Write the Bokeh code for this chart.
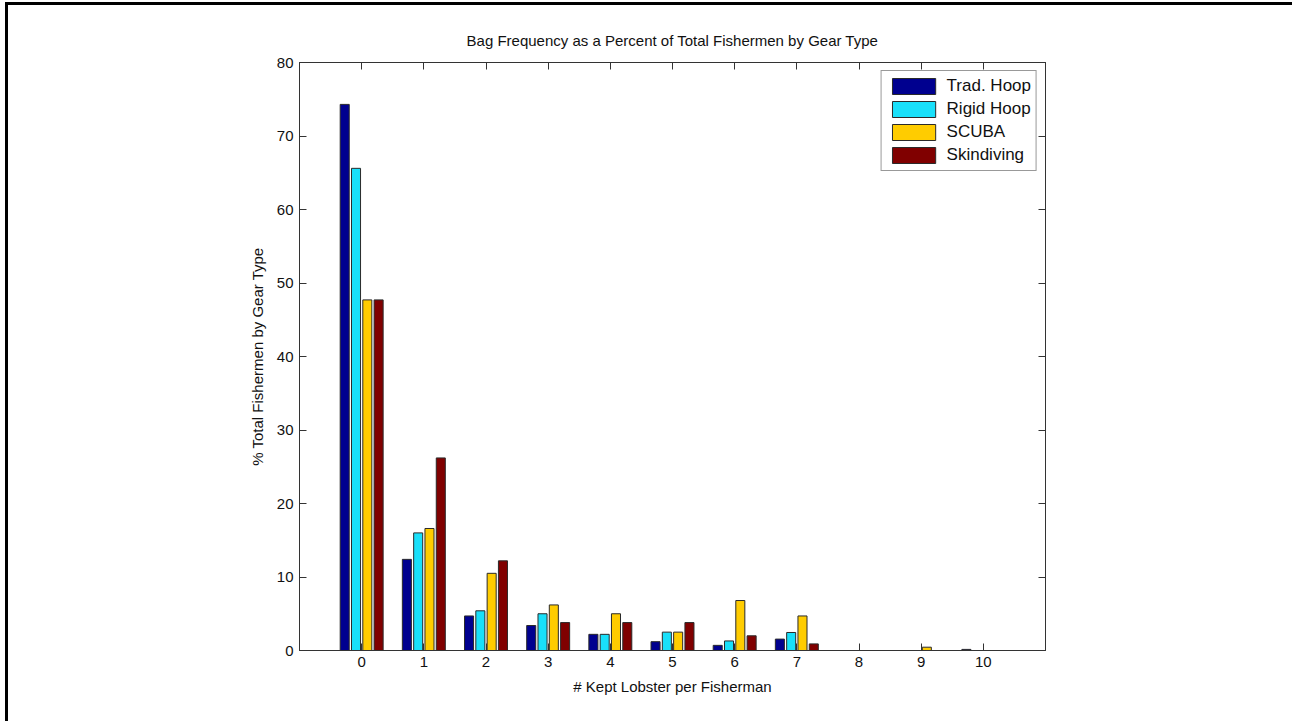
from bokeh.plotting import figure
from bokeh.models import (LinearAxis, Range1d, FixedTicker, Legend, LegendItem,
                          ColumnDataSource)
from bokeh.embed import file_html
from bokeh.resources import INLINE
from bokeh.transform import dodge

# ---- data ----
kept = [0, 1, 2, 3, 4, 5, 6, 7, 8, 9, 10]
trad_hoop = [74.3, 12.4, 4.7, 3.4, 2.2, 1.2, 0.7, 1.55, 0.0, 0.0, 0.15]
rigid_hoop = [65.6, 16.0, 5.4, 5.0, 2.2, 2.5, 1.3, 2.45, 0.0, 0.0, 0.0]
scuba = [47.7, 16.6, 10.5, 6.2, 5.0, 2.5, 6.8, 4.7, 0.0, 0.45, 0.0]
skindiving = [47.7, 26.2, 12.2, 3.8, 3.8, 3.8, 2.0, 0.9, 0.0, 0.0, 0.0]
series_names = ["Trad. Hoop", "Rigid Hoop", "SCUBA", "Skindiving"]
series_keys = ["trad", "rigid", "scuba", "skin"]
colors = ["#00008F", "#19E0FA", "#FFCC00", "#800000"]
y_ticks = [0, 10, 20, 30, 40, 50, 60, 70, 80]
x_ticks = kept

FONT = "Liberation Sans"

source = ColumnDataSource(dict(x=kept, trad=trad_hoop, rigid=rigid_hoop,
                               scuba=scuba, skin=skindiving))

p = figure(frame_width=746, frame_height=588,
           x_range=Range1d(-1, 11), y_range=Range1d(0, 80),
           output_backend="svg", toolbar_location=None,
           min_border_left=291, min_border_top=57,
           min_border_right=250, min_border_bottom=74,
           title="Bag Frequency as a Percent of Total Fishermen by Gear Type")

p.title.align = "center"
p.title.text_font = FONT
p.title.text_font_style = "normal"
p.title.text_font_size = "15px"
p.title.text_color = "#111111"
p.title.standoff = 27

p.xgrid.visible = False
p.ygrid.visible = False
p.outline_line_color = "#333333"
p.background_fill_color = "white"
p.border_fill_color = "white"

n = 4
group_w = 4 / 5.5
bar_w = 0.8 * group_w / n
renderers = []
for i, (key, name, col) in enumerate(zip(series_keys, series_names, colors)):
    off = -group_w / 2 + (2 * i + 1) * group_w / (2 * n)
    r = p.vbar(x=dodge("x", off), top=key, width=bar_w, bottom=0,
               source=source, fill_color=col, line_color="#2a2a2a",
               line_width=1)
    renderers.append(r)

def style_axis(ax, ticks, labels=True):
    ax.ticker = FixedTicker(ticks=ticks)
    ax.major_tick_in = 7
    ax.major_tick_out = 0
    ax.minor_tick_line_color = None
    ax.axis_line_color = "#333333"
    ax.major_tick_line_color = "#333333"
    ax.major_label_text_font = FONT
    ax.major_label_text_font_size = "15px"
    ax.major_label_text_color = "#111111"
    ax.axis_label_text_font = FONT
    ax.axis_label_text_font_style = "normal"
    ax.axis_label_text_font_size = "15px"
    ax.axis_label_text_color = "#111111"
    if not labels:
        ax.major_label_overrides = {t: "" for t in ticks}
        ax.major_label_standoff = 0

for ax in p.xaxis:
    style_axis(ax, x_ticks)
    ax.major_label_standoff = 6
    ax.axis_label = "# Kept Lobster per Fisherman"
    ax.axis_label_standoff = 8
for ax in p.yaxis:
    style_axis(ax, y_ticks)
    ax.major_label_standoff = 6
    ax.axis_label = "% Total Fishermen by Gear Type"
    ax.axis_label_standoff = 8

right_ax = LinearAxis()
p.add_layout(right_ax, "right")
style_axis(right_ax, y_ticks, labels=False)
top_ax = LinearAxis()
p.add_layout(top_ax, "above")
style_axis(top_ax, x_ticks, labels=False)

legend = Legend(items=[LegendItem(label=nm, renderers=[r])
                       for nm, r in zip(series_names, renderers)],
                location="top_right")
legend.glyph_width = 54
legend.glyph_height = 20
legend.spacing = 3
legend.padding = 5
legend.margin = 8
legend.label_standoff = 6
legend.label_text_font = FONT
legend.label_text_font_size = "17px"
legend.label_text_color = "#111111"
legend.border_line_color = "#333333"
legend.border_line_width = 1
legend.background_fill_color = "white"
p.add_layout(legend)

p.styles = {"box-shadow": "-3px -3px 0 0 black",
            "margin-left": "8px", "margin-top": "5px"}

open("out.html", "w").write(file_html(p, INLINE))
